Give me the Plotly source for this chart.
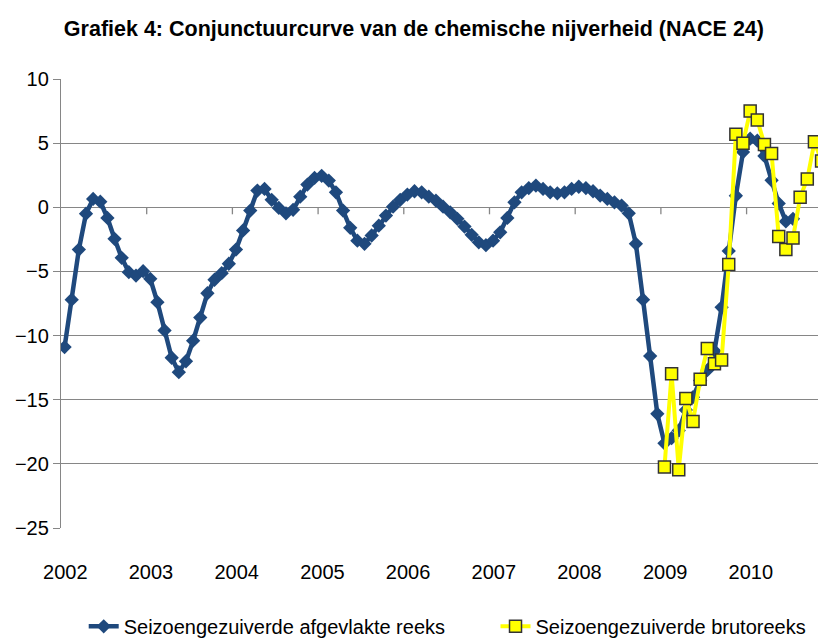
import plotly.graph_objects as go

# maandelijkse reeksen, januari 2002 = maand 0
afgevlakt = [
    -10.9, -7.2, -3.3, -0.5, 0.65, 0.44, -0.83, -2.46, -3.94, -5.06, -5.32, -4.98,
    -5.58, -7.4, -9.6, -11.73, -12.85, -12.0, -10.4, -8.6, -6.7, -5.65, -5.14, -4.4,
    -3.3, -1.8, -0.26, 1.3, 1.43, 0.58, -0.05, -0.47, -0.2, 0.83, 1.77, 2.29,
    2.45, 2.08, 1.17, -0.26, -1.6, -2.6, -2.85, -2.2, -1.43, -0.65, 0.05, 0.58,
    0.99, 1.25, 1.17, 0.83, 0.52, 0.05, -0.39, -0.9, -1.5, -2.15, -2.73, -2.95,
    -2.6, -1.95, -0.83, 0.39, 1.17, 1.5, 1.69, 1.43, 1.17, 1.09, 1.17, 1.43,
    1.6, 1.5, 1.25, 0.91, 0.65, 0.39, 0.13, -0.47, -2.85, -7.2, -11.6, -16.1,
    -18.4, -18.0, -17.4, -15.8, -14.8, -13.5, -12.7, -11.2, -7.8, -3.4, 0.9, 4.3,
    5.35, 5.2, 4.0, 2.1, 0.3, -1.1, -0.9,
]
# brutoreeks vanaf januari 2009 (maand 84)
bruto_start = 84
bruto = [
    -20.25, -12.97, -20.45, -14.9, -16.7, -13.4, -11.0, -12.2, -11.9, -4.46, 5.7, 5.0,
    7.5, 6.8, 4.9, 4.2, -2.28, -3.3, -2.4, 0.78, 2.2, 5.1, 3.6,
]
jaren = ["2002", "2003", "2004", "2005", "2006", "2007", "2008", "2009", "2010"]

x_afg = [i + 0.5 for i in range(len(afgevlakt))]
x_bruto = [bruto_start + i + 0.5 for i in range(len(bruto))]

font = "Liberation Sans Narrow, Arial Narrow, Liberation Sans, Arial"
grid = "#868686"
x_range = [0, 106.0]

fig = go.Figure()
fig.add_trace(go.Scatter(
    x=x_afg, y=afgevlakt, mode="lines+markers",
    name="Seizoengezuiverde afgevlakte reeks", legend="legend",
    line=dict(color="#1F497D", width=4.5),
    marker=dict(symbol="diamond", size=11, color="#1F497D"),
))
fig.add_trace(go.Scatter(
    x=x_bruto, y=bruto, mode="lines+markers",
    name="Seizoengezuiverde brutoreeks", legend="legend2",
    line=dict(color="#FFFF00", width=4),
    marker=dict(symbol="square", size=12, color="#FFFF00",
                line=dict(color="#333333", width=1.5)),
))

# jaarstreepjes onder de nullijn
for k in range(1, len(jaren) + 1):
    fig.add_shape(type="line", xref="x", yref="y", ysizemode="pixel", yanchor=0,
                  x0=12 * k, x1=12 * k, y0=0, y1=-7,
                  line=dict(color=grid, width=1.3), layer="below")

leg = dict(orientation="h", xanchor="left", y=-0.219, yanchor="middle",
           font=dict(family=font, size=20), itemwidth=30,
           bgcolor="rgba(0,0,0,0)")

fig.update_layout(
    width=818, height=639,
    margin=dict(l=61, r=0, t=79, b=110.5, autoexpand=False),
    paper_bgcolor="white", plot_bgcolor="white",
    font=dict(family=font, size=20, color="black"),
    title=dict(text="<b>Grafiek 4: Conjunctuurcurve van de chemische nijverheid (NACE 24)</b>",
               x=0.506, xanchor="center", xref="container",
               y=0.955, yanchor="middle", yref="container",
               font=dict(family=font, size=21.5, color="black")),
    xaxis=dict(range=x_range, tickvals=[12 * k + 0.6 for k in range(len(jaren))],
               ticktext=jaren, ticks="", showgrid=False, showline=False,
               zeroline=False, ticklabelstandoff=30, automargin=False),
    yaxis=dict(range=[-25, 10], dtick=5, showgrid=True, gridcolor=grid,
               gridwidth=1.3, zeroline=False, showline=True, linecolor=grid,
               linewidth=1.3, ticks="outside", ticklen=7, tickcolor=grid,
               tickwidth=1.3, ticklabelstandoff=0, automargin=False),
    legend=dict(leg, x=0.03),
    legend2=dict(leg, x=0.574),
    showlegend=True,
)

# paginamarge weg, zodat de figuur precies in het venster past
fig.write_html("out.html", config={"displayModeBar": False},
               post_script="document.body.style.margin='0';"
                           "document.body.style.overflow='hidden';")
